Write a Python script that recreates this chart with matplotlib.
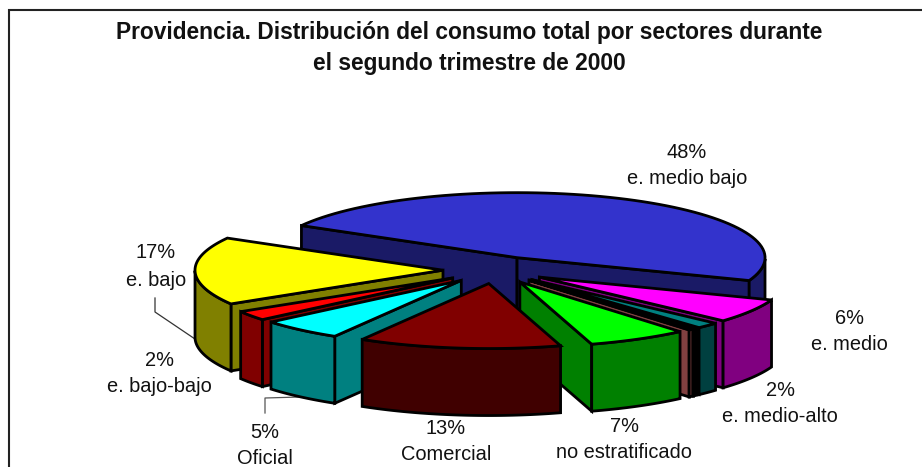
import numpy as np
import matplotlib
matplotlib.use("Agg")
import matplotlib.pyplot as plt
from matplotlib.patches import Polygon

plt.rcParams['font.family'] = ['Liberation Sans', 'DejaVu Sans']

# Data
title = "Providencia. Distribución del consumo total por sectores durante\nel segundo trimestre de 2000"
sectors = ["e. medio bajo", "e. medio", "e. medio-alto", "otros a", "otros b",
           "no estratificado", "Comercial", "Oficial", "e. bajo-bajo", "e. bajo"]
values = [47.5, 6.0, 1.5, 0.3, 0.3, 6.5, 13.2, 5.4, 2.4, 16.9]
percent_labels = ["48%", "6%", "2%", None, None, "7%", "13%", "5%", "2%", "17%"]

# Styles
top_colors = ["#3333CC", "#FF00FF", "#008080", "#000000", "#996666",
              "#00FF00", "#800000", "#00FFFF", "#FF0000", "#FFFF00"]
side_colors = ["#1A1A66", "#800080", "#004040", "#000000", "#804040",
               "#008000", "#400000", "#008080", "#800000", "#808000"]
draw_order = [0, 1, 9, 2, 3, 4, 8, 7, 5, 6]
label_pos = {0: (687, 152, 179), 1: (849, 318, 344), 2: (780, 390, 417), 5: (624, 426, 453),
             6: (446, 428, 454), 7: (265, 432, 458), 8: (159, 360, 387), 9: (156, 253, 280)}

# Pie geometry (pixel space of the figure)
CX, CY, RX, RY, DEPTH, EXPLODE, START = 495, 270, 248, 65, 67, 52, 150.4

fig = plt.figure(figsize=(9.22, 4.67), dpi=100)
ax = fig.add_axes([0, 0, 1, 1])
ax.set_xlim(0, 922)
ax.set_ylim(467, 0)
ax.axis('off')


def ell(t):
    r = np.radians(t)
    return np.column_stack([RX * np.cos(r), -RY * np.sin(r)])


def poly(pts, color, z):
    ax.add_patch(Polygon(pts, closed=True, facecolor=color, edgecolor='black',
                         linewidth=2.0, joinstyle='miter', zorder=z))


angles = START - np.concatenate([[0], np.cumsum(values)]) * 3.6
z = 2
for i in draw_order:
    a1, a2 = angles[i], angles[i + 1]   # a1 > a2, clockwise
    mid = (a1 + a2) / 2
    apex = np.array([CX, CY]) + EXPLODE * np.array([np.cos(np.radians(mid)),
                                                    -RY / RX * np.sin(np.radians(mid))])
    ts = np.linspace(a1, a2, 80)
    rim = apex + ell(ts)
    down = np.array([0, DEPTH])
    inner = apex + 0.5 * ell(np.array([mid]))[0]
    # cut faces, only those turned to the viewer
    for t_edge in (a1, a2):
        p = apex + ell(np.array([t_edge]))[0]
        d = p - apex
        y_on_line = apex[1] + d[1] * (inner[0] - apex[0]) / d[0] if abs(d[0]) > 1e-6 else apex[1]
        if inner[1] < y_on_line:
            poly([apex, p, p + down, apex + down], side_colors[i], z)
            z += 1
    # outer wall, front half only
    fs = ts[np.sin(np.radians(ts)) <= 0]
    if len(fs) > 1:
        front = apex + ell(fs)
        poly(np.vstack([front, (front + down)[::-1]]), side_colors[i], z)
        z += 1
    poly(np.vstack([apex, rim]), top_colors[i], z)
    z += 1

# Leader lines
ax.plot([155, 155, 195], [298, 312, 339], color='#333333', lw=0.9, zorder=1)
ax.plot([265, 265, 300], [413, 398, 397], color='#555555', lw=0.9, zorder=1)

# Labels
for i, (x, y1, y2) in label_pos.items():
    ax.text(x, y1, percent_labels[i], ha='center', va='center', fontsize=14.4,
            color='#111111', zorder=100)
    ax.text(x, y2, sectors[i], ha='center', va='center', fontsize=14.4,
            color='#111111', zorder=100)

ax.text(469, 48, title, ha='center', va='center', fontsize=16.4, fontweight='bold',
        linespacing=1.47, color='#111111', zorder=100)

# Chart frame: only left and top edges fall inside the picture
ax.plot([9, 9, 922], [467, 10, 10], color='#222222', lw=1.5, zorder=20, clip_on=False,
        solid_joinstyle='miter')

fig.savefig('out.png', dpi=100)
